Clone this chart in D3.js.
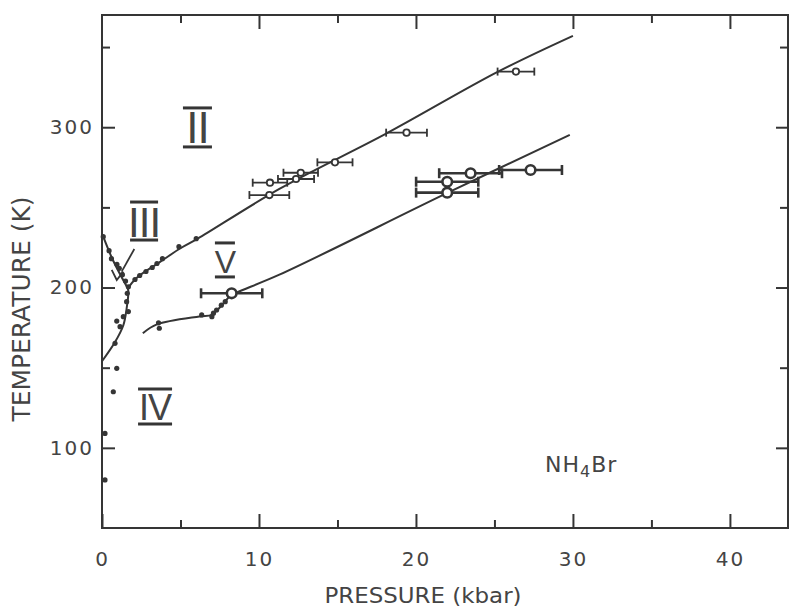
<!DOCTYPE html>
<html>
<head>
<meta charset="utf-8">
<script src="https://cdn.jsdelivr.net/npm/d3@7"></script>
<style>
  body { margin: 0; background: #fff; }
  text { font-family: "DejaVu Sans", sans-serif; fill: #444; }
</style>
</head>
<body>
<script>
// pressure ticks (kbar) and temperature ticks (K)
const xMajor = [0, 10, 20, 30, 40];
const xMinor = [5, 15, 25, 35];
const yMajor = [100, 200, 300];
const yMinor = [150, 250, 350];

// phase boundaries [p, T]
const lineII_IV = [[0, 154], [0.83, 166], [1.36, 176.5], [1.57, 187], [1.68, 197.5], [1.64, 199.5]];
const lineII_III = [[0.05, 232.5], [0.7, 217], [1.64, 199.5]];
const lineUpper = [[1.64, 199.5], [2.2, 206], [3.7, 216], [5.0, 224.5], [6.1, 230.5], [11.3, 261.5], [18.1, 296], [25.2, 334.5], [30.0, 357]];
const lineLower = [[2.6, 171.5], [3.5, 177], [6.2, 182], [7.0, 183], [7.5, 187.5], [8.2, 195], [8.6, 197], [11.3, 208], [22, 259], [29.8, 295.2]];

// filled points [p, T]
const dotsLeft = [[0.08, 231.7], [0.45, 223], [0.6, 218], [0.95, 214.5], [1.1, 212], [1.3, 208], [1.5, 204],
  [1.68, 200.5], [1.61, 196.4], [1.57, 191.2], [1.68, 185], [1.36, 181.8], [0.94, 179.1], [1.15, 175.6], [0.83, 165.2],
  [0.94, 149.6], [0.72, 135], [0.19, 109], [0.19, 80]];
const dotsUpper = [[2.1, 205], [2.4, 207.5], [2.8, 210], [3.2, 212.5], [3.5, 215], [3.85, 218], [4.9, 225.5], [6.0, 230.5]];
const dotsLower = [[3.6, 178], [3.65, 174.6], [6.35, 182.9], [7.0, 181.8], [7.1, 184], [7.3, 186], [7.6, 189], [7.85, 191.2]];

// open circles with pressure error bars [p, T, err]
const openSmall = [[10.7, 265.4, 1.1], [10.66, 257.7, 1.27], [12.36, 267.7, 1.15], [12.66, 271.6, 1.1],
  [14.84, 278.1, 1.12], [19.4, 296.6, 1.3], [26.37, 334.7, 1.17]];
const openLarge = [[8.26, 196.4, 1.95], [23.48, 271.3, 2.0], [21.99, 266.0, 1.98], [21.99, 259.2, 1.98], [27.3, 273.3, 2.0]];

const W = 789, H = 607;
const mLeft = 102, mRight = 788, mTop = 15, mBottom = 528;
const ink = '#353535';

const x = d3.scaleLinear().domain([0, 43.7]).range([mLeft, mRight]);
const y = d3.scaleLinear().domain([50, 370]).range([mBottom, mTop]);

const svg = d3.select('body').append('svg').attr('width', W).attr('height', H);

// frame
svg.append('rect')
  .attr('x', mLeft).attr('y', mTop)
  .attr('width', mRight - mLeft).attr('height', mBottom - mTop)
  .attr('fill', 'none').attr('stroke', ink).attr('stroke-width', 2);

function styleAxis(g) {
  g.select('.domain').remove();
  g.selectAll('line').attr('stroke', ink).attr('stroke-width', 2);
  g.selectAll('text')
    .style('font-family', '"DejaVu Sans", sans-serif')
    .style('font-size', '20px')
    .style('letter-spacing', '2px')
    .attr('fill', '#444');
}

svg.append('g').attr('transform', `translate(0,${mBottom})`)
  .call(d3.axisBottom(x).tickValues(xMajor).tickSize(-14).tickPadding(24).tickFormat(d3.format('d')))
  .call(styleAxis);
svg.append('g').attr('transform', `translate(0,${mBottom})`)
  .call(d3.axisBottom(x).tickValues(xMinor).tickSize(-8).tickFormat(''))
  .call(styleAxis);
svg.append('g').attr('transform', `translate(0,${mTop})`)
  .call(d3.axisTop(x).tickValues(xMajor.slice(1)).tickSize(-14).tickFormat(''))
  .call(styleAxis);
svg.append('g').attr('transform', `translate(0,${mTop})`)
  .call(d3.axisTop(x).tickValues(xMinor).tickSize(-8).tickFormat(''))
  .call(styleAxis);

svg.append('g').attr('transform', `translate(${mLeft},0)`)
  .call(d3.axisLeft(y).tickValues(yMajor).tickSize(-13).tickPadding(8).tickFormat(d3.format('d')))
  .call(styleAxis);
svg.append('g').attr('transform', `translate(${mLeft},0)`)
  .call(d3.axisLeft(y).tickValues(yMinor).tickSize(-8).tickFormat(''))
  .call(styleAxis);
svg.append('g').attr('transform', `translate(${mRight},0)`)
  .call(d3.axisRight(y).tickValues(yMajor).tickSize(-12).tickFormat(''))
  .call(styleAxis);
svg.append('g').attr('transform', `translate(${mRight},0)`)
  .call(d3.axisRight(y).tickValues(yMinor).tickSize(-8).tickFormat(''))
  .call(styleAxis);

// axis titles
svg.append('text')
  .attr('x', 423).attr('y', 603)
  .attr('text-anchor', 'middle')
  .attr('textLength', 197).attr('lengthAdjust', 'spacingAndGlyphs')
  .style('font-size', '22px')
  .text('PRESSURE (kbar)');

svg.append('text')
  .attr('transform', 'translate(30,309) rotate(-90)')
  .attr('text-anchor', 'middle')
  .attr('textLength', 225).attr('lengthAdjust', 'spacingAndGlyphs')
  .style('font-size', '24px')
  .text('TEMPERATURE (K)');

// phase boundaries
const line = d3.line().x(d => x(d[0])).y(d => y(d[1]));
const lineSmooth = d3.line().x(d => x(d[0])).y(d => y(d[1])).curve(d3.curveCatmullRom.alpha(0.5));

[lineII_IV, lineII_III, lineUpper, lineLower].forEach(pts => {
  svg.append('path')
    .attr('d', lineSmooth(pts))
    .attr('fill', 'none').attr('stroke', ink).attr('stroke-width', 2);
});

// filled dots
svg.append('g').selectAll('circle')
  .data(dotsLeft.concat(dotsUpper, dotsLower))
  .join('circle')
  .attr('cx', d => x(d[0])).attr('cy', d => y(d[1]))
  .attr('r', 2.6).attr('fill', ink);

// error bars + open circles
function drawOpen(data, r, sw, cap) {
  const g = svg.append('g').attr('stroke', ink);
  const e = g.selectAll('g').data(data).join('g');
  e.append('line')
    .attr('x1', d => x(d[0] - d[2])).attr('x2', d => x(d[0] + d[2]))
    .attr('y1', d => y(d[1])).attr('y2', d => y(d[1]))
    .attr('stroke-width', sw);
  e.append('line')
    .attr('x1', d => x(d[0] - d[2])).attr('x2', d => x(d[0] - d[2]))
    .attr('y1', d => y(d[1]) - cap).attr('y2', d => y(d[1]) + cap)
    .attr('stroke-width', sw);
  e.append('line')
    .attr('x1', d => x(d[0] + d[2])).attr('x2', d => x(d[0] + d[2]))
    .attr('y1', d => y(d[1]) - cap).attr('y2', d => y(d[1]) + cap)
    .attr('stroke-width', sw);
  e.append('circle')
    .attr('cx', d => x(d[0])).attr('cy', d => y(d[1]))
    .attr('r', r).attr('fill', '#fff').attr('stroke-width', sw);
}
drawOpen(openSmall, 3.2, 1.8, 4);
drawOpen(openLarge, 4.8, 2.6, 5);

// phase labels with over- and underbars
function roman(txt, p, t, size, half, barTop, barBot) {
  const cx = x(p), cy = y(t);
  svg.append('text')
    .attr('x', cx).attr('y', cy)
    .attr('text-anchor', 'middle')
    .style('font-family', '"Liberation Sans", sans-serif')
    .style('font-size', size + 'px')
    .style('letter-spacing', '-1px')
    .attr('fill', ink)
    .text(txt);
  [barTop, barBot].forEach(dy => {
    svg.append('line')
      .attr('x1', cx - half).attr('x2', cx + half)
      .attr('y1', cy + dy).attr('y2', cy + dy)
      .attr('stroke', ink).attr('stroke-width', 3);
  });
}
roman('II', 6.08, 290.2, 44, 14.5, -35, 4);
roman('III', 2.68, 231.5, 42, 14, -35, 3);
roman('V', 7.83, 209.1, 32, 10, -30, 4);
roman('IV', 3.38, 117.4, 36, 17, -31, 4);

// pointer to the small III field
svg.append('path')
  .attr('d', line([[2.06, 224], [1.25, 209.9]]))
  .attr('fill', 'none').attr('stroke', ink).attr('stroke-width', 1.8);
svg.append('path')
  .attr('d', line([[0.62, 211], [0.94, 204.7], [1.36, 209.9]]))
  .attr('fill', 'none').attr('stroke', ink).attr('stroke-width', 1.8);

// compound label
const lab = svg.append('text')
  .attr('x', 545).attr('y', 472)
  .style('font-size', '22px')
  .style('letter-spacing', '1px');
lab.append('tspan').text('NH');
lab.append('tspan').attr('dy', 5).style('font-size', '16px').text('4');
lab.append('tspan').attr('dy', -5).text('Br');
</script>
</body>
</html>
